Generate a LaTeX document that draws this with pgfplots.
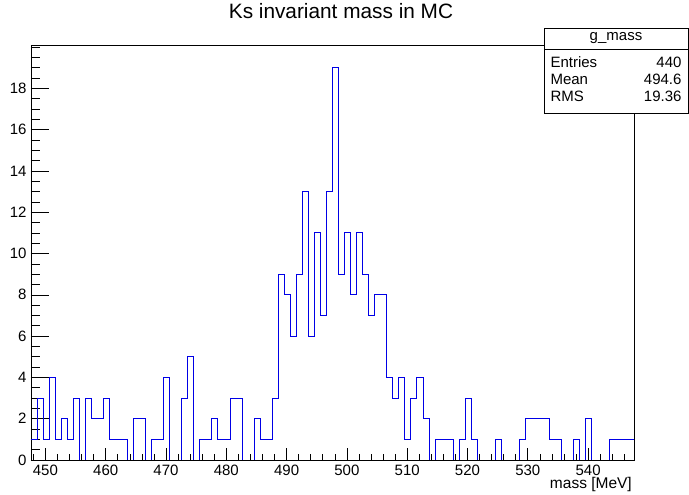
\documentclass[border=0pt]{standalone}
\usepackage{fontspec}
\setmainfont{Liberation Sans}
\usepackage{pgfplots}
\pgfplotsset{compat=1.18}
\usepackage{pgfplotstable}
\definecolor{histblue}{RGB}{0,0,230}
\pgfplotstableread{
x y
447.614 1
448.614 3
449.614 1
450.614 4
451.614 1
452.614 2
453.614 1
454.614 3
455.614 0
456.614 3
457.614 2
458.614 2
459.614 3
460.614 1
461.614 1
462.614 1
463.614 0
464.614 2
465.614 2
466.614 0
467.614 1
468.614 1
469.614 4
470.614 0
471.614 0
472.614 3
473.614 5
474.614 0
475.614 1
476.614 1
477.614 2
478.614 1
479.614 1
480.614 3
481.614 3
482.614 0
483.614 0
484.614 2
485.614 1
486.614 1
487.614 3
488.614 9
489.614 8
490.614 6
491.614 9
492.614 13
493.614 6
494.614 11
495.614 7
496.614 13
497.614 19
498.614 9
499.614 11
500.614 8
501.614 11
502.614 9
503.614 7
504.614 8
505.614 8
506.614 4
507.614 3
508.614 4
509.614 1
510.614 3
511.614 4
512.614 2
513.614 0
514.614 1
515.614 1
516.614 1
517.614 0
518.614 1
519.614 3
520.614 1
521.614 0
522.614 0
523.614 0
524.614 1
525.614 0
526.614 0
527.614 0
528.614 1
529.614 2
530.614 2
531.614 2
532.614 2
533.614 1
534.614 1
535.614 0
536.614 0
537.614 1
538.614 0
539.614 2
540.614 0
541.614 0
542.614 0
543.614 1
544.614 1
545.614 1
546.614 1
547.614 1
}\histdata
\begin{document}
\begin{tikzpicture}[x=1pt,y=1pt]
\path[use as bounding box] (0,0) rectangle (689,495);
\pgfplotsset{
  common/.style={
    at={(31pt,35pt)}, anchor=south west, scale only axis,
    width=603pt, height=415pt,
    xmin=447.614, xmax=547.614, ymin=0, ymax=20.1,
    tick pos=left, tick align=inside,
    axis line style={line width=0.8pt, black},
    every tick/.style={black, line width=0.6pt},
    /pgf/number format/assume math mode=true,
    ticklabel style={font=\fontsize{15}{15}\selectfont},
  }
}
\begin{axis}[common,
  xtick=\empty,
  ytick={0,2,...,18}, minor ytick={0,0.5,...,20},
  major tick length=18pt, minor tick length=9pt,
  yticklabel style={xshift=-1pt},
]
\end{axis}
\begin{axis}[common,
  xtick={450,460,...,540}, minor xtick={448,450,...,546},
  ytick=\empty,
  major tick length=12pt, minor tick length=6pt,
  xticklabel style={yshift=-1pt},
  xlabel={mass [MeV]},
  xlabel style={at={(rel axis cs:1,0)}, anchor=north east, inner sep=0pt, yshift=-17.5pt, xshift=-2pt, font=\fontsize{15.5}{15.5}\selectfont},
]
\addplot[const plot, draw=histblue, line width=0.9pt] table[x=x,y=y] {\histdata};
\end{axis}
% title
\node[anchor=base, font=\fontsize{20.8}{20.8}\selectfont] at (341,476) {Ks invariant mass in MC};
% stat box
\draw[fill=white, line width=0.8pt] (544,382) rectangle (688,467);
\draw[line width=0.8pt] (544,446) -- (688,446);
\node[font=\fontsize{15}{15}\selectfont] at (616,456.5) {g\_mass};
\begin{scope}[every node/.style={font=\fontsize{15}{15}\selectfont}]
\node[anchor=west] at (547,433) {Entries};
\node[anchor=east] at (685,433) {440};
\node[anchor=west] at (547,416) {Mean};
\node[anchor=east] at (685,416) {494.6};
\node[anchor=west] at (547,399) {RMS};
\node[anchor=east] at (685,399) {19.36};
\end{scope}
\end{tikzpicture}
\end{document}
